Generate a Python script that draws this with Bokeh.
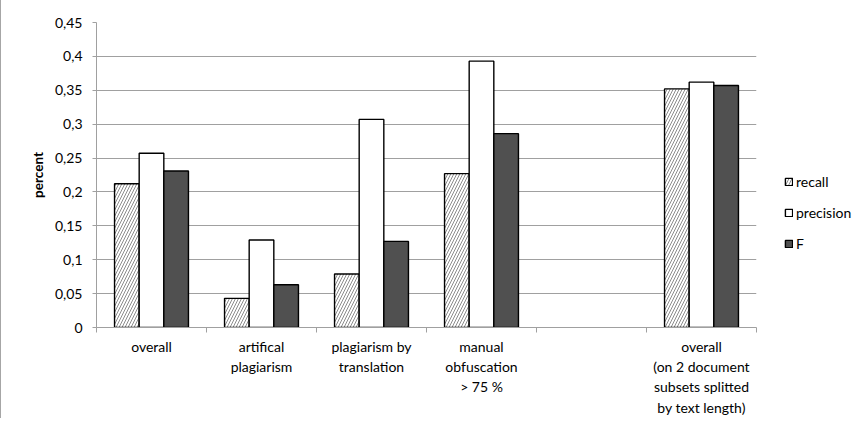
from bokeh.plotting import figure
from bokeh.models import (ColumnDataSource, Range1d, FixedTicker, Legend, LegendItem)
from bokeh.transform import dodge
from bokeh.embed import file_html
from bokeh.resources import INLINE

# ---- data -------------------------------------------------------------
categories = ["overall", "artifical\nplagiarism", "plagiarism by\ntranslation",
              "manual\nobfuscation\n> 75 %", "",
              "overall\n(on 2 document\nsubsets splitted\nby text length)"]
recall = [0.212, 0.043, 0.079, 0.227, None, 0.352]
precision = [0.257, 0.129, 0.307, 0.393, None, 0.362]
f_measure = [0.231, 0.063, 0.127, 0.286, None, 0.357]
series_names = ["recall", "precision", "F"]
ytick_values = [0.0, 0.05, 0.1, 0.15, 0.2, 0.25, 0.3, 0.35, 0.4, 0.45]
ytick_labels = ["0", "0,05", "0,1", "0,15", "0,2", "0,25", "0,3", "0,35", "0,4", "0,45"]
y_label = "percent"

# ---- build ------------------------------------------------------------
FONT = "Lato"
FS = "14px"
GRID = "#a0a0a0"

idx = [i for i, v in enumerate(recall) if v is not None]
src = ColumnDataSource(dict(
    x=[i + 0.5 for i in idx],
    recall=[recall[i] for i in idx],
    precision=[precision[i] for i in idx],
    f=[f_measure[i] for i in idx],
))

p = figure(frame_width=660, frame_height=305, output_backend="svg", toolbar_location=None,
           x_range=Range1d(0, len(categories)), y_range=Range1d(0, 0.45),
           min_border_left=95, min_border_right=0, min_border_top=22,
           min_border_bottom=86)
p.styles = {"border-left": "1px solid #a6a6a6"}
p.outline_line_color = None
p.background_fill_color = "white"
p.border_fill_color = "white"

W = 0.224
r1 = p.vbar(x=dodge("x", -W, range=p.x_range), top="recall", width=W, source=src,
            fill_color="white", line_color="black", line_width=1.4,
            hatch_pattern="/", hatch_color="#8c8c8c", hatch_scale=6, hatch_weight=1)
r2 = p.vbar(x=dodge("x", 0, range=p.x_range), top="precision", width=W, source=src,
            fill_color="white", line_color="black", line_width=1.4)
r3 = p.vbar(x=dodge("x", W, range=p.x_range), top="f", width=W, source=src,
            fill_color="#505050", line_color="black", line_width=1.4)

# x axis: labels at centres, tick marks at boundaries
centers = [i + 0.5 for i in range(len(categories))]
bounds = list(range(len(categories) + 1))
xa = p.xaxis[0]
xa.ticker = FixedTicker(ticks=centers, minor_ticks=bounds)
xa.major_label_overrides = {c: lab for c, lab in zip(centers, categories)}
xa.major_tick_line_color = None
xa.major_tick_in = 0
xa.major_tick_out = 0
xa.minor_tick_line_color = GRID
xa.minor_tick_in = 0
xa.minor_tick_out = 5
xa.axis_line_color = GRID
xa.major_label_standoff = 5
xa.major_label_text_font = FONT
xa.major_label_text_font_size = FS
xa.major_label_text_color = "black"

ya = p.yaxis[0]
ya.ticker = FixedTicker(ticks=ytick_values)
ya.major_label_overrides = {v: lab for v, lab in zip(ytick_values, ytick_labels)}
ya.major_tick_line_color = GRID
ya.major_tick_in = 0
ya.major_tick_out = 4
ya.minor_tick_line_color = None
ya.axis_line_color = GRID
ya.major_label_standoff = 10
ya.major_label_text_font = FONT
ya.major_label_text_font_size = FS
ya.major_label_text_color = "black"
ya.axis_label = y_label
ya.axis_label_text_font = FONT
ya.axis_label_text_font_size = "13.5px"
ya.axis_label_text_font_style = "bold"
ya.axis_label_text_color = "black"
ya.axis_label_standoff = 6

p.xgrid.grid_line_color = None
p.ygrid.grid_line_color = GRID
p.ygrid.ticker = FixedTicker(ticks=ytick_values)

legend = Legend(items=[LegendItem(label=series_names[0], renderers=[r1]),
                       LegendItem(label=series_names[1], renderers=[r2]),
                       LegendItem(label=series_names[2], renderers=[r3])],
                location=(28, 75), orientation="vertical",
                padding=0, margin=0, spacing=14,
                glyph_width=9, glyph_height=9, label_height=17,
                label_standoff=3, label_text_font=FONT,
                label_text_font_size=FS, label_text_color="black",
                border_line_color=None, background_fill_alpha=0)
p.add_layout(legend, "right")

open("out.html", "w").write(file_html(p, INLINE))
